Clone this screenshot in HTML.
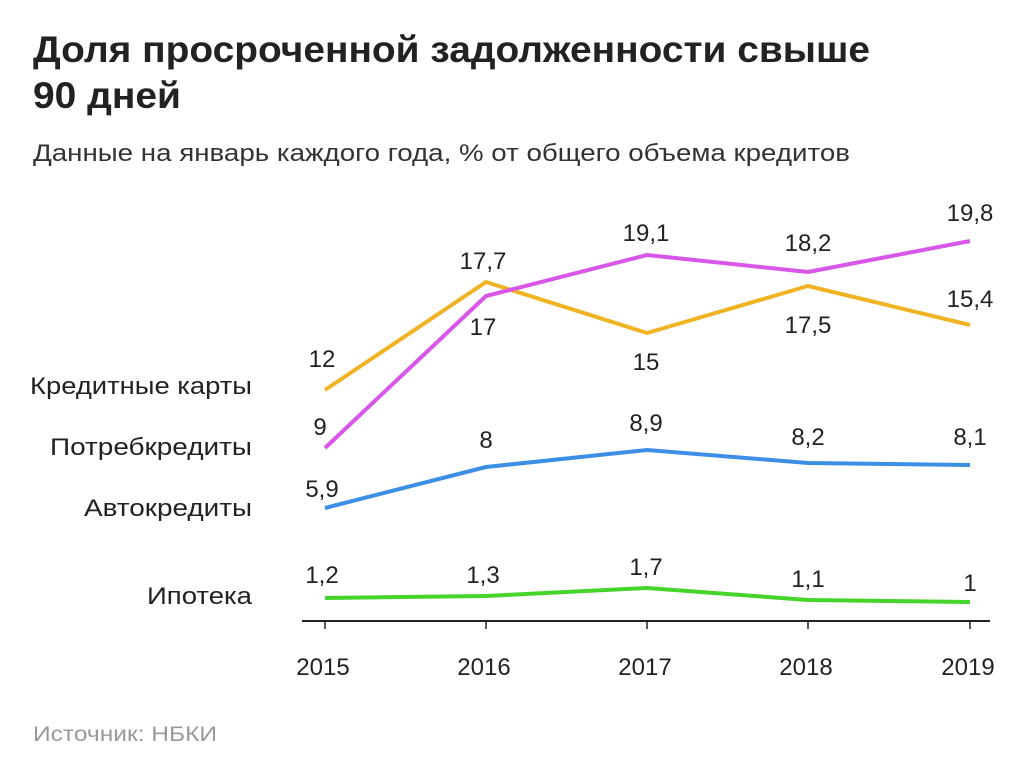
<!DOCTYPE html>
<html><head><meta charset="utf-8"><style>
body{margin:0;background:#fff;width:1024px;height:776px;overflow:hidden;font-family:"Liberation Sans","DejaVu Sans",sans-serif;}
</style></head><body>
<svg width="1024" height="776" xmlns="http://www.w3.org/2000/svg" font-family="Liberation Sans, DejaVu Sans, sans-serif">
<text x="33" y="62" font-size="37" font-weight="bold" fill="#222" textLength="837" lengthAdjust="spacingAndGlyphs">Доля просроченной задолженности свыше</text>
<text x="33" y="108" font-size="37" font-weight="bold" fill="#222" textLength="148" lengthAdjust="spacingAndGlyphs">90 дней</text>
<text x="33" y="161" font-size="24" fill="#333" textLength="817" lengthAdjust="spacingAndGlyphs">Данные на январь каждого года, % от общего объема кредитов</text>
<g font-size="24" fill="#222" lengthAdjust="spacingAndGlyphs">
<text x="30" y="394" textLength="222" lengthAdjust="spacingAndGlyphs">Кредитные карты</text>
<text x="50" y="455" textLength="202" lengthAdjust="spacingAndGlyphs">Потребкредиты</text>
<text x="84" y="516" textLength="168" lengthAdjust="spacingAndGlyphs">Автокредиты</text>
<text x="147" y="604" textLength="105" lengthAdjust="spacingAndGlyphs">Ипотека</text>
</g>
<line x1="302" y1="621" x2="990" y2="621" stroke="#222" stroke-width="2"/>
<g stroke="#222" stroke-width="1.5">
<line x1="325" y1="621" x2="325" y2="629"/><line x1="486" y1="621" x2="486" y2="629"/><line x1="647" y1="621" x2="647" y2="629"/><line x1="808" y1="621" x2="808" y2="629"/><line x1="970" y1="621" x2="970" y2="629"/>
</g>
<g font-size="24" fill="#222" text-anchor="middle">
<text x="323" y="675">2015</text><text x="484" y="675">2016</text><text x="645" y="675">2017</text><text x="806" y="675">2018</text><text x="968" y="675">2019</text>
</g>
<g fill="none" stroke-width="4" stroke-linejoin="round">
<polyline stroke="#f0b323" points="325,390 486,282 647,333 808,286 970,325"/>
<polyline stroke="#d957e8" points="325,448 486,296 647,255 808,272 970,241"/>
<polyline stroke="#3d8fe6" points="325,508 486,467 647,450 808,463 970,465"/>
<polyline stroke="#45d42a" points="325,598 486,596 647,588 808,600 970,602"/>
</g>
<g font-size="24" fill="#222" text-anchor="middle">
<text x="322" y="367">12</text><text x="483" y="269">17,7</text><text x="646" y="370">15</text><text x="808" y="333">17,5</text><text x="970" y="307">15,4</text>
<text x="320" y="435">9</text><text x="483" y="335">17</text><text x="646" y="241">19,1</text><text x="808" y="251">18,2</text><text x="970" y="221">19,8</text>
<text x="322" y="497">5,9</text><text x="486" y="448">8</text><text x="646" y="431">8,9</text><text x="808" y="445">8,2</text><text x="970" y="445">8,1</text>
<text x="322" y="583">1,2</text><text x="483" y="583">1,3</text><text x="646" y="575">1,7</text><text x="808" y="587">1,1</text><text x="970" y="591">1</text>
</g>
<text x="33" y="741" font-size="21" fill="#999" textLength="184" lengthAdjust="spacingAndGlyphs">Источник: НБКИ</text>
</svg>
</body></html>
